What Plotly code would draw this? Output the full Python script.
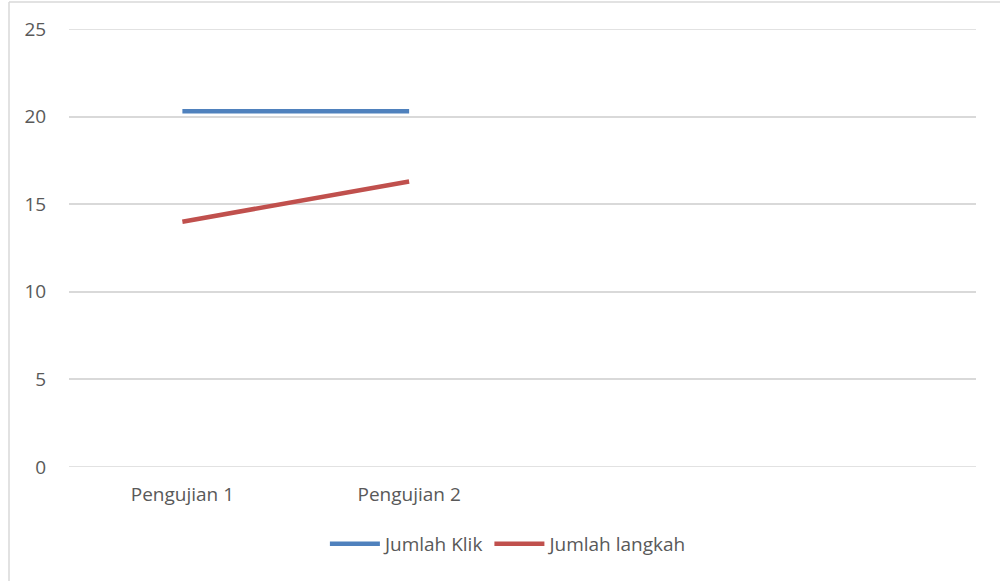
import plotly.graph_objects as go

categories = ["Pengujian 1", "Pengujian 2", "", ""]
series_names = ["Jumlah Klik", "Jumlah langkah"]
klik = [20.3, 20.3]
langkah = [14.0, 16.3]
colors = ["#4F81BD", "#C0504D"]
y_ticks = [0, 5, 10, 15, 20, 25]

xpos = list(range(len(categories)))
fig = go.Figure()
for name, vals, c in zip(series_names, [klik, langkah], colors):
    fig.add_trace(go.Scatter(
        x=xpos[:len(vals)], y=vals, name=name, mode="lines",
        line=dict(color=c, width=4.5),
    ))

W, H = 1000, 581
ml, mr, mt, mb = 69, 24, 29, 114
pw, ph = W - ml - mr, H - mt - mb

def px2paper_x(px):
    return (px - ml) / pw

def px2paper_y(py):
    return (H - mb - py) / ph

# edge gridlines (plotly suppresses gridlines on the plot-area boundary)
for yv in (y_ticks[0], y_ticks[-1]):
    fig.add_shape(type="line", xref="paper", yref="y", x0=0, x1=1, y0=yv, y1=yv,
                  line=dict(color="#D9D9D9", width=1.5), layer="below")

# chart frame (left and top border)
fig.add_shape(type="line", xref="paper", yref="paper",
              x0=px2paper_x(9), x1=px2paper_x(1000), y0=px2paper_y(2), y1=px2paper_y(2),
              line=dict(color="#D9D9D9", width=1.5))
fig.add_shape(type="line", xref="paper", yref="paper",
              x0=px2paper_x(9), x1=px2paper_x(9), y0=px2paper_y(2), y1=px2paper_y(581),
              line=dict(color="#D9D9D9", width=1.5))

font = "Open Sans, Noto Sans, sans-serif"
fs = 19
fig.update_layout(
    width=W, height=H,
    margin=dict(l=ml, r=mr, t=mt, b=mb),
    paper_bgcolor="white", plot_bgcolor="white",
    font=dict(family=font, size=fs, color="#595959"),
    showlegend=True,
    legend=dict(orientation="h", x=0.485, xanchor="center", y=px2paper_y(525), yanchor="top",
                font=dict(size=fs, color="#595959"), itemwidth=50),
    xaxis=dict(range=[-0.5, len(categories) - 0.5], tickvals=xpos, ticktext=categories,
               showgrid=False, zeroline=False, showline=False,
               ticks="outside", ticklen=10, tickcolor="rgba(0,0,0,0)",
               tickfont=dict(size=fs, color="#595959")),
    yaxis=dict(range=[0, 25], tickvals=y_ticks, showgrid=True, gridcolor="#D9D9D9", gridwidth=1.5,
               zeroline=False, showline=False,
               ticks="outside", ticklen=18, tickcolor="rgba(0,0,0,0)",
               tickfont=dict(size=fs, color="#595959")),
)
fig.write_html("out.html")
